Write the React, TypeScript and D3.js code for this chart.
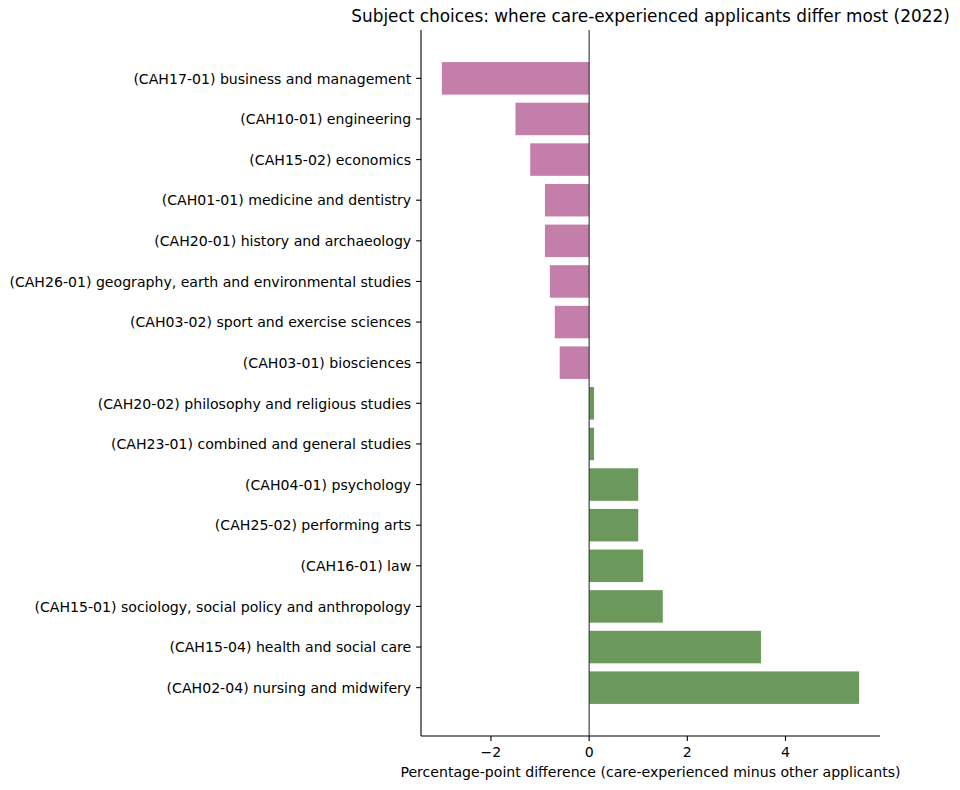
// @ts-nocheck
import { useEffect, useRef } from 'react';
import * as d3 from 'd3';

const subjects = [
  '(CAH17-01) business and management',
  '(CAH10-01) engineering',
  '(CAH15-02) economics',
  '(CAH01-01) medicine and dentistry',
  '(CAH20-01) history and archaeology',
  '(CAH26-01) geography, earth and environmental studies',
  '(CAH03-02) sport and exercise sciences',
  '(CAH03-01) biosciences',
  '(CAH20-02) philosophy and religious studies',
  '(CAH23-01) combined and general studies',
  '(CAH04-01) psychology',
  '(CAH25-02) performing arts',
  '(CAH16-01) law',
  '(CAH15-01) sociology, social policy and anthropology',
  '(CAH15-04) health and social care',
  '(CAH02-04) nursing and midwifery',
];
const differences = [-3.0, -1.5, -1.2, -0.9, -0.9, -0.8, -0.7, -0.6, 0.1, 0.1, 1.0, 1.0, 1.1, 1.5, 3.5, 5.5];
const xTicks = [-2, 0, 2, 4];

const title = 'Subject choices: where care-experienced applicants differ most (2022)';
const xLabel = 'Percentage-point difference (care-experienced minus other applicants)';

const W = 960;
const H = 790;
const margin = { top: 30, right: 80, bottom: 54, left: 421 };
const FONT = 'DejaVu Sans, sans-serif';
const NEG = '#c47eaa';
const POS = '#6b995c';
const FS = 14.1;

export default function App() {
  const ref = useRef(null);

  useEffect(() => {
    const svg = d3.select(ref.current);
    svg.selectAll('*').remove();

    const iw = W - margin.left - margin.right;
    const ih = H - margin.top - margin.bottom;

    // matplotlib-like 5% margins
    const lo = d3.min(differences);
    const hi = d3.max(differences);
    const pad = (hi - lo) * 0.05;
    const x = d3.scaleLinear().domain([lo - pad, hi + pad]).range([0, iw]);

    const n = subjects.length;
    const ypad = (n - 1 + 0.8) * 0.05;
    const y = d3.scaleLinear().domain([-0.4 - ypad, n - 1 + 0.4 + ypad]).range([0, ih]);
    const bh = y(0.8) - y(0);

    const g = svg.append('g').attr('transform', `translate(${margin.left},${margin.top})`);

    g.selectAll('rect.bar')
      .data(differences)
      .join('rect')
      .attr('class', 'bar')
      .attr('x', (d) => x(Math.min(0, d)))
      .attr('width', (d) => Math.abs(x(d) - x(0)))
      .attr('y', (d, i) => y(i) - bh / 2)
      .attr('height', bh)
      .attr('fill', (d) => (d < 0 ? NEG : POS));

    // zero line
    g.append('line')
      .attr('x1', x(0)).attr('x2', x(0))
      .attr('y1', 0).attr('y2', ih)
      .attr('stroke', '#333')
      .attr('stroke-width', 1.1);

    // y axis
    const yAxis = g.append('g');
    yAxis.append('line').attr('x1', 0).attr('x2', 0).attr('y1', 0).attr('y2', ih).attr('stroke', '#000').attr('stroke-width', 1.1);
    subjects.forEach((s, i) => {
      yAxis.append('line').attr('x1', -4.9).attr('x2', 0).attr('y1', y(i)).attr('y2', y(i)).attr('stroke', '#000').attr('stroke-width', 1.1);
      yAxis.append('text')
        .attr('x', -9.8)
        .attr('y', y(i) + 5.2)
        .attr('text-anchor', 'end')
        .attr('font-family', FONT)
        .attr('font-size', FS)
        .attr('fill', '#000')
        .text(s);
    });

    // x axis
    const xAxis = g.append('g').attr('transform', `translate(0,${ih})`);
    xAxis.append('line').attr('x1', 0).attr('x2', iw).attr('stroke', '#000').attr('stroke-width', 1.1);
    xTicks.forEach((t) => {
      xAxis.append('line').attr('x1', x(t)).attr('x2', x(t)).attr('y1', 0).attr('y2', 4.9).attr('stroke', '#000').attr('stroke-width', 1.1);
      xAxis.append('text')
        .attr('x', x(t))
        .attr('y', 20.5)
        .attr('text-anchor', 'middle')
        .attr('font-family', FONT)
        .attr('font-size', FS)
        .attr('fill', '#000')
        .text(t < 0 ? `\u2212${Math.abs(t)}` : `${t}`);
    });

    xAxis.append('text')
      .attr('x', iw / 2)
      .attr('y', 41)
      .attr('text-anchor', 'middle')
      .attr('font-family', FONT)
      .attr('font-size', FS)
      .attr('fill', '#000')
      .text(xLabel);

    g.append('text')
      .attr('x', iw / 2)
      .attr('y', -8.5)
      .attr('text-anchor', 'middle')
      .attr('font-family', FONT)
      .attr('font-size', 16.9)
      .attr('fill', '#000')
      .text(title);
  }, []);

  return (
    <svg ref={ref} width={W} height={H} style={{ position: 'absolute', left: 0, top: 0, background: '#fff' }} />
  );
}
